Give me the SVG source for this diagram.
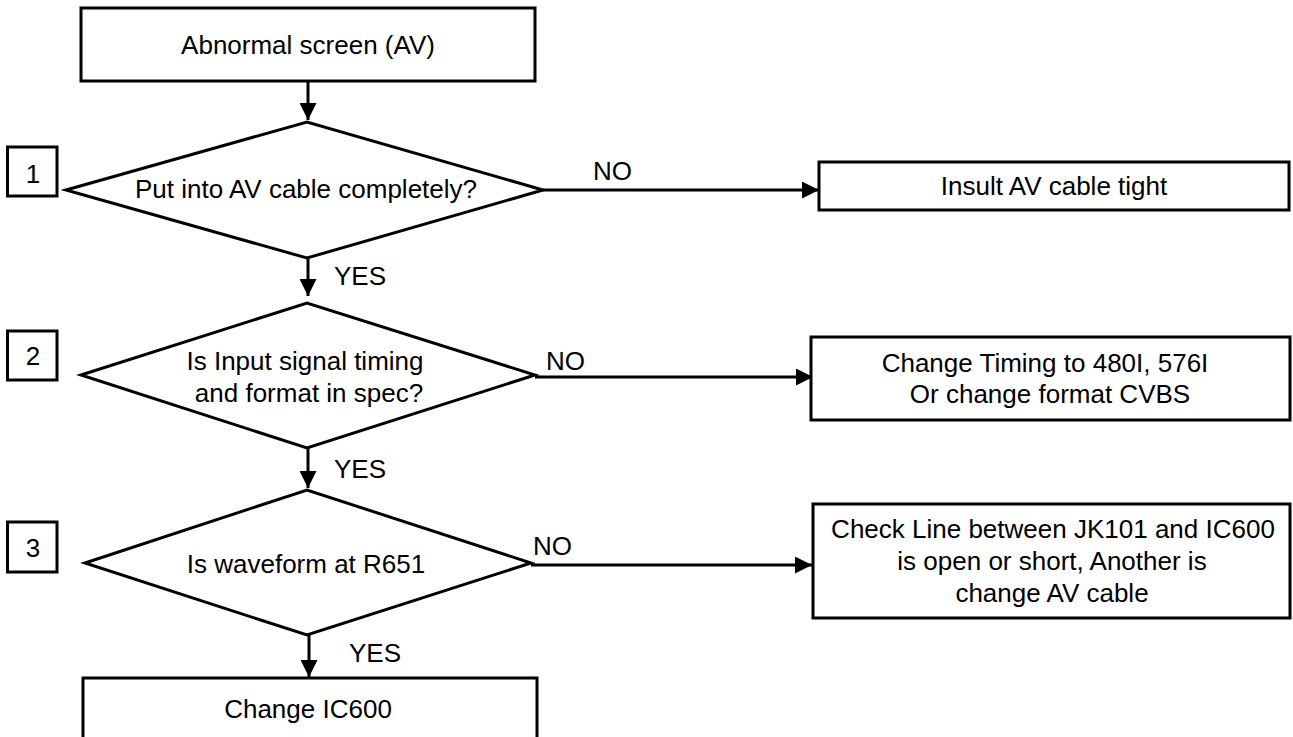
<svg xmlns="http://www.w3.org/2000/svg" width="1293" height="737" viewBox="0 0 1293 737">
<defs>
<style>
.box{fill:#fff;stroke:#000;stroke-width:3}
.dia{fill:#fff;stroke:#000;stroke-width:3;stroke-linejoin:miter}
.num{fill:#fff;stroke:#000;stroke-width:3}
.t{font-family:"Liberation Sans",Arial,sans-serif;font-size:26px;fill:#000;text-anchor:middle}
.l{font-family:"Liberation Sans",Arial,sans-serif;font-size:26px;fill:#000}
.c{fill:none;stroke:#000;stroke-width:3}
</style>
<marker id="ah" viewBox="0 0 10 10" refX="10" refY="5" markerWidth="17" markerHeight="17" markerUnits="userSpaceOnUse" orient="auto">
<path d="M0,0 L10,5 L0,10 Z" fill="#000"/>
</marker>
</defs>
<rect width="1293" height="737" fill="#fff"/>
<g id="connectors">
<line class="c" x1="308" y1="81" x2="308" y2="120" marker-end="url(#ah)"/>
<line class="c" x1="543" y1="190" x2="819" y2="190" marker-end="url(#ah)"/>
<line class="c" x1="308" y1="258" x2="308" y2="296" marker-end="url(#ah)"/>
<line class="c" x1="535" y1="377" x2="813" y2="377" marker-end="url(#ah)"/>
<line class="c" x1="308" y1="448" x2="308" y2="488" marker-end="url(#ah)"/>
<line class="c" x1="531" y1="565" x2="812" y2="565" marker-end="url(#ah)"/>
<line class="c" x1="309" y1="635" x2="309" y2="677" marker-end="url(#ah)"/>
<text class="l" x="593" y="180">NO</text>
<text class="l" x="334" y="285">YES</text>
<text class="l" x="546" y="370">NO</text>
<text class="l" x="334" y="478">YES</text>
<text class="l" x="533" y="555">NO</text>
<text class="l" x="349" y="662">YES</text>
</g>
<g id="start">
<rect class="box" x="81" y="8" width="454" height="73"/>
<text class="t" x="308" y="54">Abnormal screen (AV)</text>
</g>
<g id="step1">
<rect class="num" x="7.5" y="147" width="49.5" height="49"/>
<text class="t" x="33" y="183">1</text>
</g>
<g id="q1">
<polygon class="dia" points="66,190 307,122 543,190 307,258"/>
<text class="t" x="306" y="198">Put into AV cable completely?</text>
</g>
<g id="a1">
<rect class="box" x="819" y="162" width="470" height="48"/>
<text class="t" x="1054" y="195">Insult AV cable tight</text>
</g>
<g id="step2">
<rect class="num" x="7.5" y="331" width="49.5" height="49"/>
<text class="t" x="33" y="365">2</text>
</g>
<g id="q2">
<polygon class="dia" points="81,375 307,303 535,375 307,448"/>
<text class="t" x="305" y="370">Is Input signal timing</text>
<text class="t" x="309" y="402">and format in spec?</text>
</g>
<g id="a2">
<rect class="box" x="811" y="337" width="479" height="83"/>
<text class="t" x="1045" y="372">Change Timing to 480I, 576I</text>
<text class="t" x="1050" y="403">Or change format CVBS</text>
</g>
<g id="step3">
<rect class="num" x="7.5" y="522" width="49.5" height="50"/>
<text class="t" x="33" y="557">3</text>
</g>
<g id="q3">
<polygon class="dia" points="85,563 307,490 531,563 307,635"/>
<text class="t" x="306" y="573">Is waveform at R651</text>
</g>
<g id="a3">
<rect class="box" x="813" y="504" width="477" height="114"/>
<text class="t" x="1053" y="538">Check Line between JK101 and IC600</text>
<text class="t" x="1052" y="570">is open or short, Another is</text>
<text class="t" x="1052" y="602">change AV cable</text>
</g>
<g id="end">
<rect class="box" x="83" y="678" width="454" height="70"/>
<text class="t" x="308" y="718">Change IC600</text>
</g>
</svg>
